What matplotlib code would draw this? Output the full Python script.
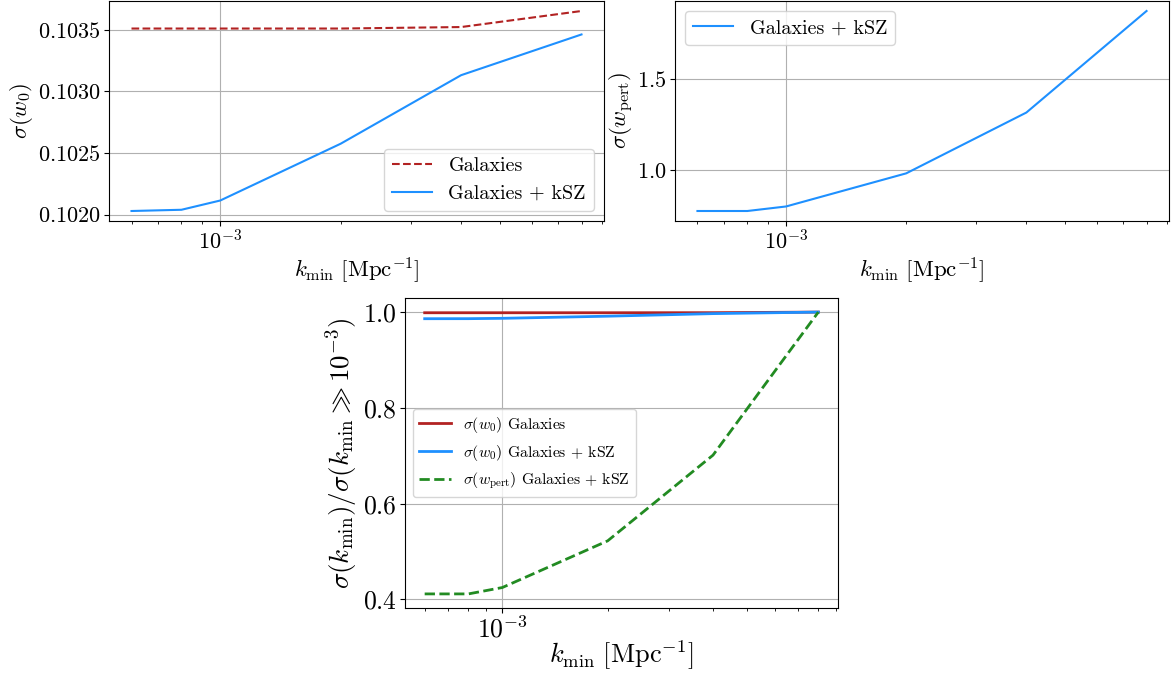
import matplotlib
matplotlib.use("Agg")
import matplotlib.pyplot as plt
from matplotlib.ticker import MultipleLocator, NullFormatter

plt.rcParams.update({
    "font.family": "serif",
    "font.serif": ["cmr10", "DejaVu Serif"],
    "mathtext.fontset": "cm",
    "axes.formatter.use_mathtext": True,
    "axes.unicode_minus": False,
})

# Minimum wavenumber of the analysis [Mpc^-1]
k_min = [6e-4, 8e-4, 1e-3, 2e-3, 4e-3, 8e-3]

# Forecast uncertainties
sigma_w0_gal = [0.103508, 0.103508, 0.103508, 0.103508, 0.103520, 0.103650]
sigma_w0_gal_ksz = [0.102030, 0.102040, 0.102115, 0.102575, 0.103130, 0.103460]
sigma_wpert_gal_ksz = [0.773, 0.773, 0.798, 0.981, 1.317, 1.878]

RED = "#b22222"
BLUE = "#1e90ff"
GREEN = "#228b22"

W, H = 1172, 675
fig = plt.figure(figsize=(W / 100, H / 100), dpi=100)


def box(x0, y0, x1, y1):
    return [x0 / W, 1 - y1 / H, (x1 - x0) / W, (y1 - y0) / H]


def style_x(ax, fs):
    ax.set_xscale("log")
    ax.xaxis.set_minor_formatter(NullFormatter())
    ax.grid(True, which="major")
    ax.tick_params(labelsize=fs, pad=2.5)


XLABEL = r"$k_{\rm min}\ [{\rm Mpc}^{-1}]$"

# --- sigma(w0) ---
ax1 = fig.add_axes(box(109, 1, 604, 221))
ax1.plot(k_min, sigma_w0_gal, "--", color=RED, label="Galaxies")
ax1.plot(k_min, sigma_w0_gal_ksz, "-", color=BLUE, label="Galaxies + kSZ")
style_x(ax1, 16)
ax1.yaxis.set_major_locator(MultipleLocator(0.0005))
ax1.ticklabel_format(axis="y", useOffset=False)
ax1.set_xlabel(XLABEL, fontsize=16.5, labelpad=2)
ax1.set_ylabel(r"$\sigma(w_0)$", fontsize=16.5, labelpad=2)
ax1.legend(loc="lower right", fontsize=14.5)

# --- sigma(w_pert) ---
ax2 = fig.add_axes(box(675, 1, 1169, 221))
ax2.plot(k_min, sigma_wpert_gal_ksz, "-", color=BLUE, label="Galaxies + kSZ")
style_x(ax2, 16)
ax2.yaxis.set_major_locator(MultipleLocator(0.5))
ax2.set_xlabel(XLABEL, fontsize=16.5, labelpad=2)
ax2.set_ylabel(r"$\sigma(w_{\rm pert})$", fontsize=16.5, labelpad=1)
ax2.legend(loc="upper left", fontsize=14.5)

# --- ratios relative to the largest k_min ---
ratio_w0_gal = [v / sigma_w0_gal[-1] for v in sigma_w0_gal]
ratio_w0_gal_ksz = [v / sigma_w0_gal_ksz[-1] for v in sigma_w0_gal_ksz]
ratio_wpert_gal_ksz = [v / sigma_wpert_gal_ksz[-1] for v in sigma_wpert_gal_ksz]

ax3 = fig.add_axes(box(405, 298, 838, 608))
ax3.plot(k_min, ratio_w0_gal, "-", color=RED, lw=2,
         label=r"$\sigma(w_0)$ Galaxies")
ax3.plot(k_min, ratio_w0_gal_ksz, "-", color=BLUE, lw=2,
         label=r"$\sigma(w_0)$ Galaxies + kSZ")
ax3.plot(k_min, ratio_wpert_gal_ksz, "--", color=GREEN, lw=2,
         label=r"$\sigma(w_{\rm pert})$ Galaxies + kSZ")
style_x(ax3, 18.5)
ax3.yaxis.set_major_locator(MultipleLocator(0.2))
ax3.set_xlabel(XLABEL, fontsize=19, labelpad=-3)
ax3.set_ylabel(r"$\sigma(k_{\rm min})/\sigma(k_{\rm min} \gg 10^{-3})$",
               fontsize=19.5, labelpad=2)
ax3.legend(loc="center left", fontsize=11.3)

fig.savefig("out.png", dpi=100)
